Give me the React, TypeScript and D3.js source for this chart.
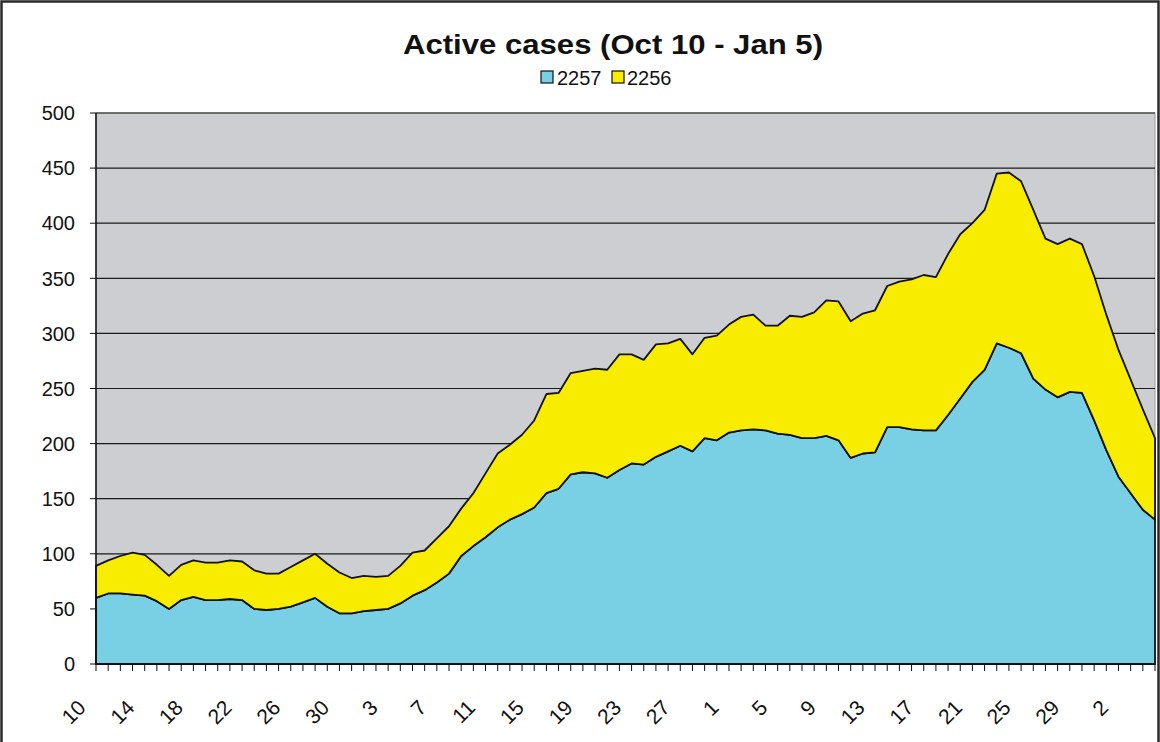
import React from "react";
import * as d3 from "d3";

const days = [
  10, 11, 12, 13, 14, 15, 16, 17, 18, 19, 20, 21, 22, 23, 24, 25, 26, 27, 28, 29, 30, 31,
  1, 2, 3, 4, 5, 6, 7, 8, 9, 10, 11, 12, 13, 14, 15, 16, 17, 18, 19, 20, 21, 22, 23, 24, 25, 26, 27, 28, 29, 30,
  1, 2, 3, 4, 5, 6, 7, 8, 9, 10, 11, 12, 13, 14, 15, 16, 17, 18, 19, 20, 21, 22, 23, 24, 25, 26, 27, 28, 29, 30, 31,
  1, 2, 3, 4, 5,
];

const s2257 = [
  60, 64, 64, 63, 62, 57, 50, 58, 61, 58, 58, 59, 58, 50, 49, 50, 52, 56, 60, 52, 46, 46,
  48, 49, 50, 55, 62, 67, 74, 82, 98, 107, 115, 124, 131, 136, 142, 155, 159, 172, 174, 173,
  169, 176, 182, 181, 188, 193, 198, 193, 205, 203, 210, 212, 213, 212, 209, 208, 205, 205,
  207, 203, 187, 191, 192, 215, 215, 213, 212, 212, 226, 241, 256, 267, 291, 287, 282, 259,
  249, 242, 247, 246, 221, 194, 170, 155, 140, 131,
];

const s2256 = [
  29, 30, 34, 38, 37, 33, 30, 32, 33, 34, 34, 35, 35, 35, 33, 32, 36, 38, 40, 39, 37, 32,
  32, 30, 30, 34, 39, 36, 40, 43, 43, 48, 58, 67, 68, 72, 79, 90, 87, 92, 92, 95,
  98, 105, 99, 95, 102, 98, 97, 88, 91, 95, 98, 103, 104, 95, 98, 108, 110, 114,
  123, 126, 124, 127, 129, 128, 132, 136, 141, 139, 146, 149, 144, 145, 154, 159, 156, 153,
  137, 139, 139, 135, 131, 123, 115, 103, 91, 74,
];

const seriesNames = ["2257", "2256"];
const seriesColors = ["#79cfe3", "#f8ed00"];
const yTicks = [0, 50, 100, 150, 200, 250, 300, 350, 400, 450, 500];

export default function App() {
  const W = 1160;
  const H = 742;
  const left = 96;
  const right = 1155;
  const top = 113;
  const bottom = 664;

  const x = d3.scaleLinear().domain([0, days.length - 1]).range([left, right]);
  const y = d3.scaleLinear().domain([0, 500]).range([bottom, top]);

  const rows = days.map((d, i) => ({ i, a: s2257[i], b: s2256[i] }));
  const stacked = d3.stack<any>().keys(["a", "b"])(rows);
  const area = d3
    .area<any>()
    .x((d: any) => x(d.data.i))
    .y0((d: any) => y(d[0]))
    .y1((d: any) => y(d[1]));

  const font = "'Liberation Sans', Arial, sans-serif";

  return (
    <div>
      <style>{`body{margin:0}`}</style>
      <svg width={W} height={H} style={{ display: "block", background: "#ffffff" }}>
        {/* outer frame */}
        <rect x={1.5} y={1.5} width={W - 3} height={H + 20} fill="none" stroke="#2a2a2a" strokeWidth={2.5} />

        {/* title */}
        <text
          x={403}
          y={54}
          textLength={420}
          lengthAdjust="spacingAndGlyphs"
          fontFamily={font}
          fontWeight="bold"
          fontSize={28}
          fill="#111"
        >
          Active cases (Oct 10 - Jan 5)
        </text>

        {/* legend */}
        <g fontFamily={font} fontSize={20} fill="#111">
          <rect x={541} y={71} width={12} height={12} fill={seriesColors[0]} stroke="#111" strokeWidth={1.2} />
          <text x={557} y={85}>{seriesNames[0]}</text>
          <rect x={612} y={71} width={12} height={12} fill={seriesColors[1]} stroke="#111" strokeWidth={1.2} />
          <text x={627} y={85}>{seriesNames[1]}</text>
        </g>

        {/* plot background */}
        <rect x={left} y={top} width={right - left} height={bottom - top} fill="#cdced1" stroke="#9a9a9a" strokeWidth={1} />

        {/* grid lines */}
        {yTicks.map((t) => (
          <line key={t} x1={left} x2={right} y1={y(t)} y2={y(t)} stroke="#1a1a1a" strokeWidth={1.2} />
        ))}

        {/* areas */}
        {stacked.map((s, k) => (
          <path key={k} d={area(s as any) || ""} fill={seriesColors[k]} stroke="#111" strokeWidth={1.8} strokeLinejoin="round" />
        ))}

        {/* y axis */}
        <line x1={left} x2={left} y1={top} y2={bottom} stroke="#111" strokeWidth={1.5} />
        {yTicks.map((t) => (
          <g key={t}>
            <line x1={left - 6} x2={left} y1={y(t)} y2={y(t)} stroke="#111" strokeWidth={1} />
            <text x={75} y={y(t)} dy="0.36em" textAnchor="end" fontFamily={font} fontSize={20} fill="#111">
              {t}
            </text>
          </g>
        ))}

        {/* x axis */}
        <line x1={left} x2={right} y1={bottom} y2={bottom} stroke="#111" strokeWidth={1.5} />
        {days.map((d, i) => (
          <line key={i} x1={x(i)} x2={x(i)} y1={bottom} y2={bottom + 7} stroke="#111" strokeWidth={1} />
        ))}
        {days.map((d, i) =>
          i % 4 === 0 ? (
            <text
              key={"l" + i}
              transform={`translate(${x(i) - 9},${709}) rotate(-45)`}
              textAnchor="end"
              fontFamily={font}
              fontSize={21}
              fill="#111"
            >
              {d}
            </text>
          ) : null
        )}
      </svg>
    </div>
  );
}
